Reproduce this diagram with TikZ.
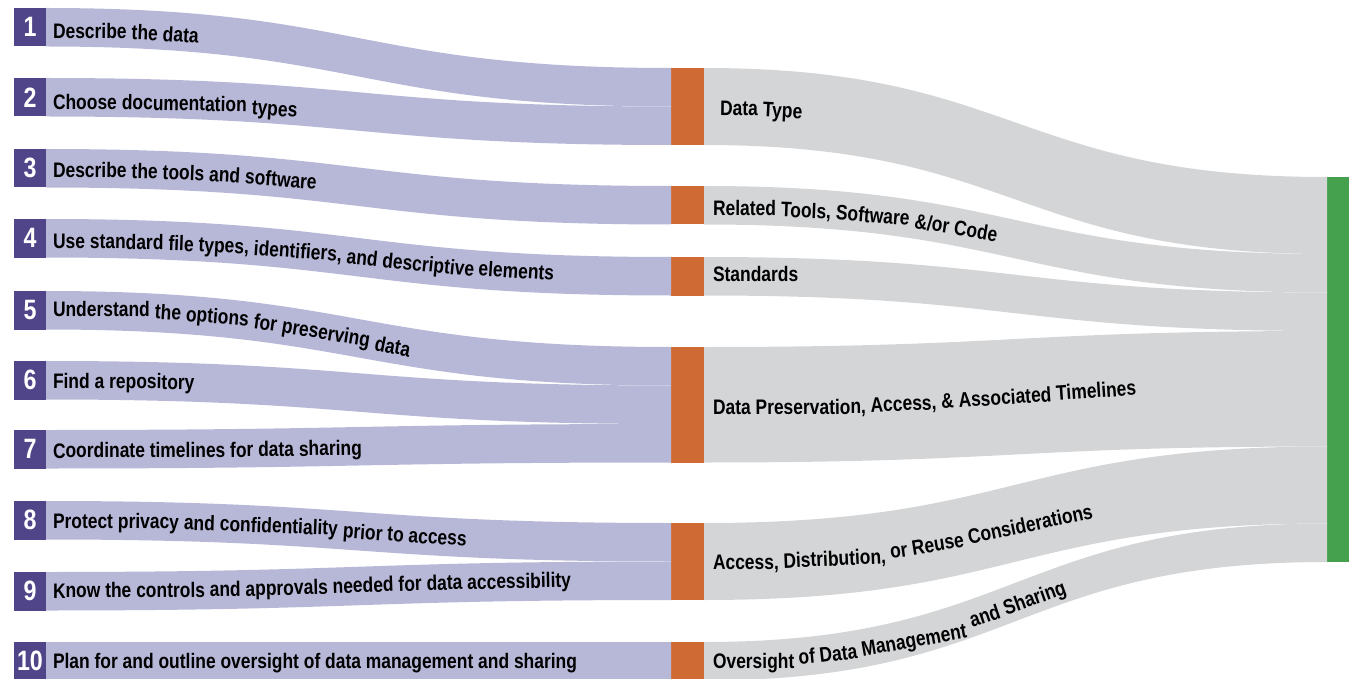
\documentclass[tikz,border=0pt]{standalone}
\usepackage{fontspec}
\setmainfont{Liberation Sans}
\newfontfamily\condfont[FakeStretch=0.83]{Liberation Sans}
\usetikzlibrary{calc}
\definecolor{purp}{HTML}{504589}
\definecolor{lav}{HTML}{B7B8D8}
\definecolor{orng}{HTML}{D06A35}
\definecolor{grayband}{HTML}{D4D5D7}
\definecolor{grn}{HTML}{45A14D}
\newcommand\lblfmt{\condfont\bfseries\fontsize{21}{21}\selectfont}
% band between two node edges: #1 source top, #2 source bottom, #3 target top, #4 target bottom
\newcommand\flowband[5]{%
  \coordinate (FA) at (#1);
  \coordinate (FB) at (#2);
  \coordinate (FC) at (#3);
  \coordinate (FD) at (#4);
  \coordinate (FM) at ($(FA)!0.5!(FC)$);
  \fill[#5] (FA) .. controls (FM |- FA) and (FM |- FC) .. (FC) -- (FD)
     .. controls (FM |- FD) and (FM |- FB) .. (FB) -- cycle;
}
% label baseline: #1 indent, #2 px below source top, #3 px below target top
\newcommand\labelpath[3][7]{%
  \pgfpointanchor{FA}{center}\pgfgetlastxy{\pax}{\pay}%
  \pgfpointanchor{FC}{center}\pgfgetlastxy{\pcx}{\pcy}%
  \pgfmathsetmacro\Tmp{\pax}\xdef\LXa{\Tmp}%
  \pgfmathsetmacro\Tmp{\pay-#2}\xdef\LYa{\Tmp}%
  \pgfmathsetmacro\Tmp{\pcx}\xdef\LXb{\Tmp}%
  \pgfmathsetmacro\Tmp{\pcy-#3}\xdef\LYb{\Tmp}%
  \pgfmathsetmacro\Tmp{\LXa+#1}\xdef\LCur{\Tmp}%
}
\newcommand\lw[1]{%
  \pgfmathsetmacro\Uu{(\LCur-\LXa)/(\LXb-\LXa)}%
  \let\Tp\Uu
  \pgfmathsetmacro\Tp{\Tp-(1.5*\Tp-1.5*\Tp*\Tp+\Tp*\Tp*\Tp-\Uu)/(1.5-3*\Tp+3*\Tp*\Tp)}%
  \pgfmathsetmacro\Tp{\Tp-(1.5*\Tp-1.5*\Tp*\Tp+\Tp*\Tp*\Tp-\Uu)/(1.5-3*\Tp+3*\Tp*\Tp)}%
  \pgfmathsetmacro\Tp{\Tp-(1.5*\Tp-1.5*\Tp*\Tp+\Tp*\Tp*\Tp-\Uu)/(1.5-3*\Tp+3*\Tp*\Tp)}%
  \pgfmathsetmacro\Yy{\LYa+(\LYb-\LYa)*(3*\Tp*\Tp-2*\Tp*\Tp*\Tp)}%
  \pgfmathsetmacro\Slp{(\LYb-\LYa)*(6*\Tp-6*\Tp*\Tp)/((\LXb-\LXa)*(1.5-3*\Tp+3*\Tp*\Tp))}%
  \pgfmathsetmacro\Ang{atan(\Slp)}%
  \node[lbl, rotate=\Ang] (wordnode) at (\LCur pt,\Yy pt) {#1};
  \pgfpointanchor{wordnode}{base east}\pgfgetlastxy{\pex}{\pey}%
  \pgfmathsetmacro\Tmp{\pex+4.85*cos(\Ang)}\xdef\LCur{\Tmp}%
}
\def\splitwords#1 #2\stopw{\lw{#1}\if\relax\detokenize{#2}\relax\else\splitwords#2\stopw\fi}
\newcommand\flowwords[1]{\splitwords#1 \stopw}
\begin{document}
\begin{tikzpicture}[x=1pt,y=-1pt,
  numbox/.style={fill=purp, text=white, minimum width=32pt, minimum height=38.5pt,
     inner sep=0pt, outer sep=0pt, anchor=north west,
     font=\condfont\bfseries\fontsize{28}{28}\selectfont},
  bar/.style={fill=orng, minimum width=33pt, inner sep=0pt, outer sep=0pt, anchor=north west},
  gbar/.style={fill=grn, minimum width=25pt, minimum height=385pt, inner sep=0pt, outer sep=0pt, anchor=north west},
  lbl/.style={font=\lblfmt, text=black, inner sep=0pt, outer sep=0pt, anchor=base west}]
\useasboundingbox (0,0) rectangle (1349,679);
\clip (0,0) rectangle (1349,679);
% numbered steps
\node[numbox] (n1) at (14,8) {1};
\node[numbox] (n2) at (14,78) {2};
\node[numbox] (n3) at (14,149) {3};
\node[numbox] (n4) at (14,219) {4};
\node[numbox] (n5) at (14,291) {5};
\node[numbox] (n6) at (14,361) {6};
\node[numbox] (n7) at (14,430) {7};
\node[numbox] (n8) at (14,501) {8};
\node[numbox] (n9) at (14,572) {9};
\node[numbox] (n10) at (14,642) {10};
% element bars
\node[bar, minimum height=77pt] (dt) at (671,68) {};
\node[bar, minimum height=38.5pt] (rt) at (671,186) {};
\node[bar, minimum height=38.5pt] (st) at (671,257) {};
\node[bar, minimum height=115.5pt] (dp) at (671,347) {};
\node[bar, minimum height=77pt] (ac) at (671,523) {};
\node[bar, minimum height=38.5pt] (ov) at (671,642) {};
\node[gbar] (goal) at (1327,177) {};
% right flows
\flowband{dt.north east}{dt.south east}{goal.north west}{$(goal.north west)+(0,77)$}{grayband}
\labelpath[16]{47.5}{47.5}\flowwords{Data Type}
\flowband{rt.north east}{rt.south east}{$(goal.north west)+(0,77)$}{$(goal.north west)+(0,115.5)$}{grayband}
\labelpath[9]{29.5}{23}\flowwords{Related Tools, Software \&/or Code}
\flowband{st.north east}{st.south east}{$(goal.north west)+(0,115.5)$}{$(goal.north west)+(0,154)$}{grayband}
\labelpath[9]{24.5}{24.5}\flowwords{Standards}
\flowband{dp.north east}{dp.south east}{$(goal.north west)+(0,154)$}{$(goal.north west)+(0,269.5)$}{grayband}
\labelpath[9]{68}{61}\flowwords{Data Preservation, Access, \& Associated Timelines}
\flowband{ac.north east}{ac.south east}{$(goal.north west)+(0,269.5)$}{$(goal.north west)+(0,346.5)$}{grayband}
\labelpath[9]{47}{52}\flowwords{Access, Distribution, or Reuse Considerations}
\flowband{ov.north east}{ov.south east}{$(goal.north west)+(0,346.5)$}{goal.south west}{grayband}
\labelpath[9]{27}{32}\flowwords{Oversight of Data Management and Sharing}
% left flows
\flowband{n1.north east}{n1.south east}{dt.north west}{$(dt.north west)+(0,38.5)$}{lav}
\labelpath{30}{28}\flowwords{Describe the data}
\flowband{n2.north east}{n2.south east}{$(dt.north west)+(0,38.5)$}{dt.south west}{lav}
\labelpath{31}{30}\flowwords{Choose documentation types}
\flowband{n3.north east}{n3.south east}{rt.north west}{rt.south west}{lav}
\labelpath{28}{28}\flowwords{Describe the tools and software}
\flowband{n4.north east}{n4.south east}{st.north west}{st.south west}{lav}
\labelpath{29.5}{24}\flowwords{Use standard file types, identifiers, and descriptive elements}
\flowband{n5.north east}{n5.south east}{dp.north west}{$(dp.north west)+(0,38.5)$}{lav}
\labelpath{25}{31}\flowwords{Understand the options for preserving data}
\flowband{n6.north east}{n6.south east}{$(dp.north west)+(0,38.5)$}{$(dp.north west)+(0,77)$}{lav}
\labelpath{27}{27}\flowwords{Find a repository}
\flowband{n7.north east}{n7.south east}{$(dp.north west)+(0,77)$}{dp.south west}{lav}
\labelpath{28}{28}\flowwords{Coordinate timelines for data sharing}
\flowband{n8.north east}{n8.south east}{ac.north west}{$(ac.north west)+(0,38.5)$}{lav}
\labelpath{27}{27}\flowwords{Protect privacy and confidentiality prior to access}
\flowband{n9.north east}{n9.south east}{$(ac.north west)+(0,38.5)$}{ac.south west}{lav}
\labelpath{26}{26}\flowwords{Know the controls and approvals needed for data accessibility}
\flowband{n10.north east}{n10.south east}{ov.north west}{ov.south west}{lav}
\labelpath{26}{26}\flowwords{Plan for and outline oversight of data management and sharing}
\end{tikzpicture}
\end{document}
